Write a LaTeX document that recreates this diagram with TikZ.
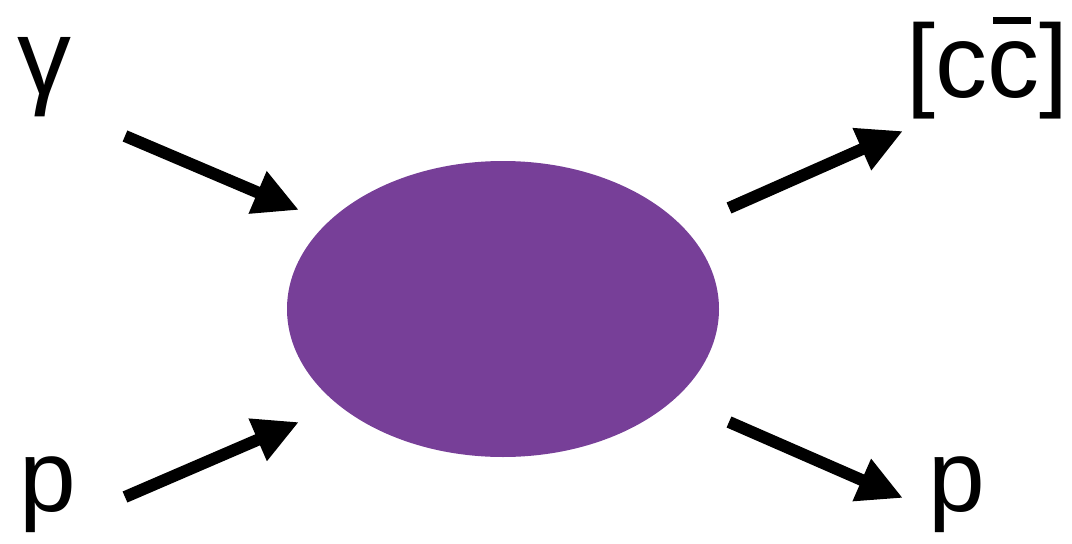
\documentclass[tikz,border=0pt]{standalone}
\usepackage{fontspec}
\setmainfont{Liberation Sans}
\usetikzlibrary{shapes.geometric,arrows.meta}
\definecolor{blobcol}{RGB}{119,63,152}
\newcommand\cbarglyph{\makebox[0pt][l]{\hspace{0.06em}\rule[0.70em]{0.36em}{0.07em}}c}
\tikzset{
  lbl/.style={inner sep=0pt, anchor=base west, font=\fontsize{102}{120}\selectfont},
  arr/.style={line width=12pt, -{Triangle[length=45pt,width=43pt]}},
}
\begin{document}
\begin{tikzpicture}[x=1pt,y=-1pt]
\useasboundingbox (0,0) rectangle (1072,544);
\node[ellipse, fill=blobcol, minimum width=432pt, minimum height=296pt, inner sep=0pt] (blob) at (503,309) {};
\node[lbl, font=\fontsize{108}{120}\selectfont] (gamma) at (17,94) {γ};
\node[lbl] (pin) at (19,511) {p};
\node[lbl] (pout) at (928,511) {p};
\node[lbl, font=\fontsize{104}{120}\selectfont] (ccbar) at (906,97) {[c\cbarglyph]};
\coordinate (a1s) at (125,136);
\coordinate (a1e) at (299,210);
\coordinate (a2s) at (125,497);
\coordinate (a2e) at (299,422);
\coordinate (a3s) at (729,208);
\coordinate (a3e) at (903,131);
\coordinate (a4s) at (729,422);
\coordinate (a4e) at (903,498);
\draw[arr] (a1s) -- (a1e);
\draw[arr] (a2s) -- (a2e);
\draw[arr] (a3s) -- (a3e);
\draw[arr] (a4s) -- (a4e);
\end{tikzpicture}
\end{document}
